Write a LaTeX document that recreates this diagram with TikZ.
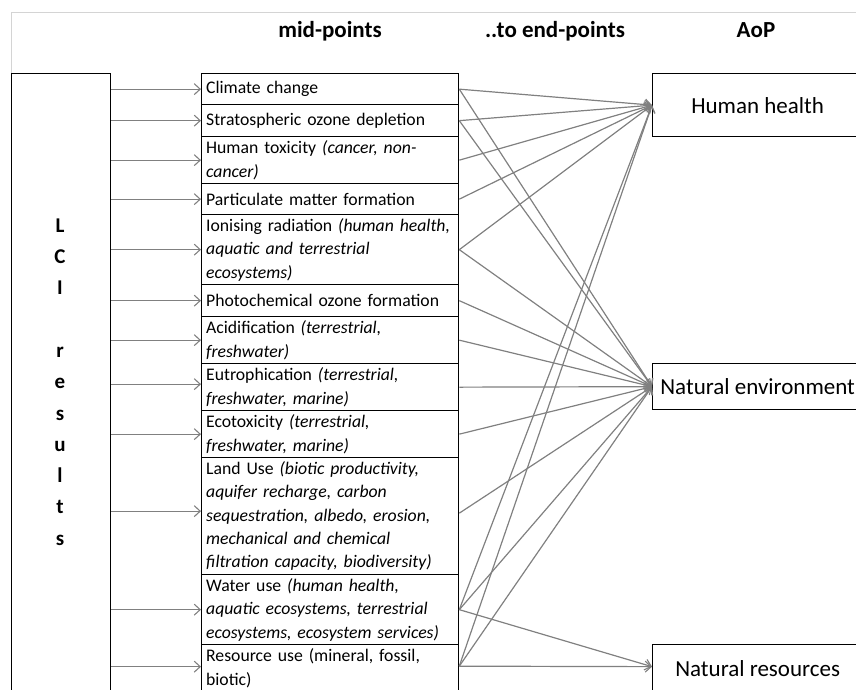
\documentclass[tikz,border=0pt]{standalone}
\usepackage{fontspec}
\setmainfont{Carlito}
\usetikzlibrary{arrows.meta}
\definecolor{linkgray}{RGB}{128,128,128}
\definecolor{framegray}{RGB}{212,212,212}
\newcommand{\midfont}{\fontsize{17.7}{23.4}\selectfont}
\newcommand{\aopfont}{\fontsize{23}{28}\selectfont}
\newcommand{\headfont}{\fontsize{23}{27}\selectfont\bfseries}
\begin{document}
\begin{tikzpicture}[x=1pt,y=-1pt,
  box/.style={draw=black, line width=1.3pt},
  midbox/.style={box, anchor=north west, minimum width=257pt, text width=248pt,
                 inner xsep=4.5pt, inner ysep=0pt, align=left, font=\midfont},
  aopbox/.style={box, anchor=north west, minimum width=210pt, inner sep=0pt, font=\aopfont},
  headtext/.style={font=\headfont, inner sep=0pt, anchor=base},
  link/.style={draw=linkgray, line width=1.2pt},
  feed/.style={link, -{Straight Barb[length=6pt,width=11pt,line width=1.1pt]}}]
\clip (0,0) rectangle (856,689);

% table border above the first column
\draw[framegray, line width=0.9pt] (11,73) -- (11,12) -- (856,12);

% column headings
\node[headtext] (hmid) at (330,37) {mid-points};
\node[headtext] (hend) at (555,37) {..to end-points};
\node[headtext] (haop) at (756,37) {AoP};

% inventory column
\node[box, anchor=north west, minimum width=99pt, minimum height=660pt, inner sep=0pt] (lci) at (11,73) {};
\node[font=\fontsize{21}{31.3}\selectfont\bfseries, align=center, inner sep=0pt] (lcitext) at (60,382)
  {L\\C\\I\\\mbox{}\\r\\e\\s\\u\\l\\t\\s};

% mid-point categories
\node[midbox, minimum height=31pt] (m1) at (201,73) {Climate change};
\node[midbox, minimum height=32pt] (m2) at (201,104) {Stratospheric ozone depletion};
\node[midbox, minimum height=47pt] (m3) at (201,136) {Human toxicity \textit{(cancer, non-}\\\textit{cancer)}};
\node[midbox, minimum height=31pt] (m4) at (201,183) {Particulate matter formation};
\node[midbox, minimum height=70pt] (m5) at (201,214) {Ionising radiation \textit{(human health,}\\\textit{aquatic and terrestrial}\\\textit{ecosystems)}};
\node[midbox, minimum height=32pt] (m6) at (201,284) {Photochemical ozone formation};
\node[midbox, minimum height=47pt] (m7) at (201,316) {Acidification \textit{(terrestrial,}\\\textit{freshwater)}};
\node[midbox, minimum height=47pt] (m8) at (201,363) {Eutrophication \textit{(terrestrial,}\\\textit{freshwater, marine)}};
\node[midbox, minimum height=47pt] (m9) at (201,410) {Ecotoxicity \textit{(terrestrial,}\\\textit{freshwater, marine)}};
\node[midbox, minimum height=117pt] (m10) at (201,457) {Land Use \textit{(biotic productivity,}\\\textit{aquifer recharge, carbon}\\\textit{sequestration, albedo, erosion,}\\\textit{mechanical and chemical}\\\textit{filtration capacity, biodiversity)}};
\node[midbox, minimum height=70pt] (m11) at (201,574) {Water use \textit{(human health,}\\\textit{aquatic ecosystems, terrestrial}\\\textit{ecosystems, ecosystem services)}};
\node[midbox, minimum height=47pt] (m12) at (201,644) {Resource use (mineral, fossil,\\biotic)};

% areas of protection
\node[aopbox, minimum height=63pt] (hh) at (652,73) {Human health};
\node[aopbox, minimum height=46pt] (ne) at (652,363) {Natural environment};
\node[aopbox, minimum height=47pt] (nr) at (652,644) {Natural resources};
\coordinate (nrin) at ([yshift=1.5pt]nr.west);

% inventory results feeding each category
\foreach \m in {m1,m2,m3,m4,m5,m6,m7,m9,m11}
  \draw[feed] (lci.east |- \m.west) -- (\m.west);
\coordinate (in8) at ([yshift=3pt]m8.west);
\coordinate (in10) at ([yshift=5pt]m10.west);
\coordinate (in12) at ([yshift=1.5pt]m12.west);
\foreach \c in {in8,in10,in12}
  \draw[feed] (lci.east |- \c) -- (\c);

% category outputs
\coordinate (out10) at ([yshift=3pt]m10.east);
\coordinate (out12) at ([yshift=2pt]m12.east);

% mid-points to Human health
\foreach \s in {m1.east,m2.east,m3.east,m4.east,m5.east,m11.east,out12}
  \draw[feed] (\s) -- (hh.west);

% mid-points to Natural environment
\foreach \s in {m1.east,m2.east,m5.east,m6.east,m7.east,m8.east,m9.east,out10,m11.east,out12}
  \draw[feed] (\s) -- (ne.west);

% mid-points to Natural resources
\foreach \s in {m11.east,out12}
  \draw[feed] (\s) -- (nrin);
\end{tikzpicture}
\end{document}
